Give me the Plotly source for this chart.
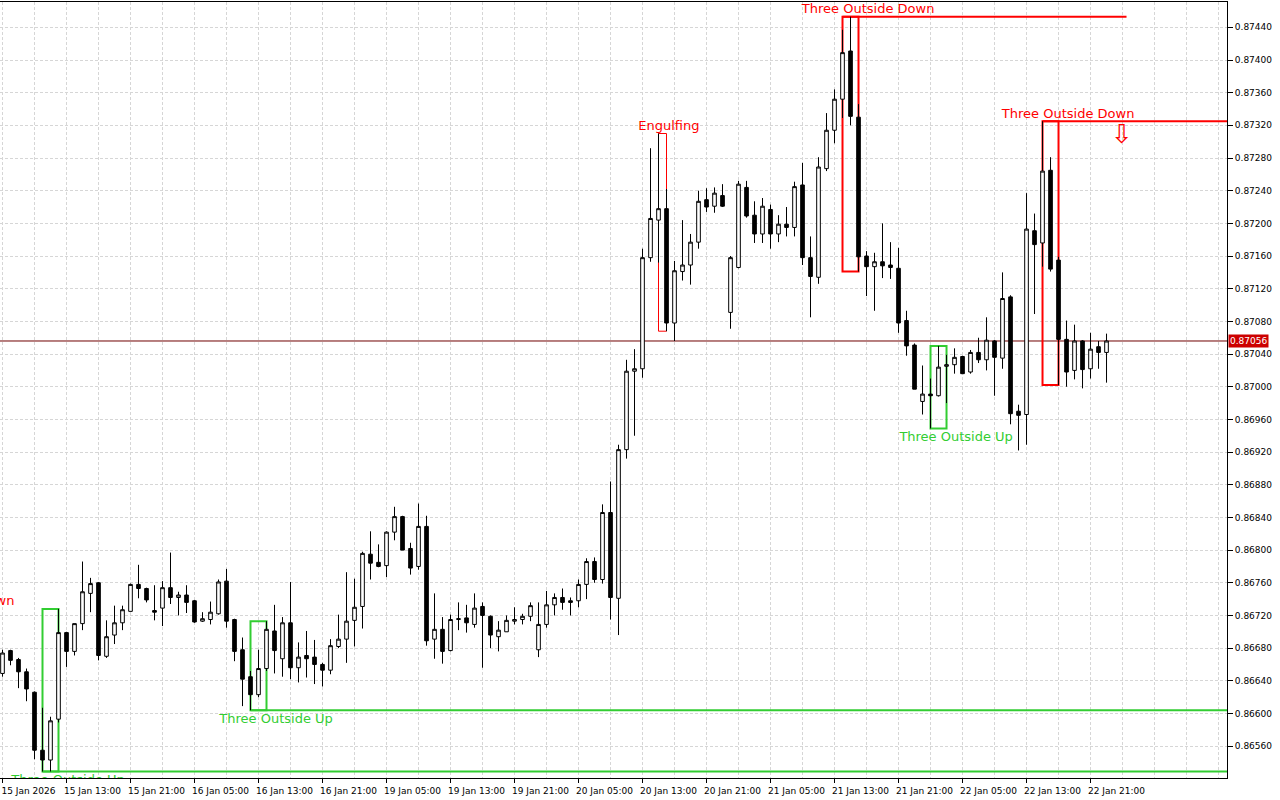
import pandas as pd
import plotly.graph_objects as go

# hourly EURGBP-style bars, 15 Jan 05:00 .. 22 Jan 23:00 (weekend skipped)
OPEN = [
    0.86649, 0.86677, 0.86666, 0.86651, 0.86626, 0.86555, 0.86543, 0.86593, 0.86699, 0.86676,
    0.86710, 0.86747, 0.86760, 0.86670, 0.86696, 0.86711, 0.86725, 0.86758, 0.86753, 0.86726,
    0.86729, 0.86754, 0.86742, 0.86745, 0.86738, 0.86713, 0.86715, 0.86722, 0.86762, 0.86715,
    0.86678, 0.86645, 0.86623, 0.86655, 0.86701, 0.86667, 0.86711, 0.86656, 0.86671, 0.86669,
    0.86660, 0.86653, 0.86682, 0.86691, 0.86714, 0.86731, 0.86795, 0.86785, 0.86781, 0.86822,
    0.86841, 0.86802, 0.86780, 0.86829, 0.86691, 0.86703, 0.86677, 0.86715, 0.86717, 0.86709,
    0.86731, 0.86719, 0.86694, 0.86700, 0.86713, 0.86715, 0.86719, 0.86678, 0.86709, 0.86733,
    0.86742, 0.86738, 0.86738, 0.86758, 0.86786, 0.86764, 0.86846, 0.86741, 0.86923, 0.87019,
    0.87022, 0.87158, 0.87204, 0.87218, 0.87078, 0.87141, 0.87149, 0.87177, 0.87229, 0.87221,
    0.87234, 0.87091, 0.87146, 0.87244, 0.87210, 0.87187, 0.87217, 0.87187, 0.87199, 0.87195,
    0.87247, 0.87158, 0.87134, 0.87267, 0.87314, 0.87352, 0.87411, 0.87330, 0.87160, 0.87147,
    0.87153, 0.87149, 0.87145, 0.87081, 0.87051, 0.86982, 0.86991, 0.86989, 0.87025, 0.87027,
    0.87037, 0.87018, 0.87042, 0.87033, 0.87056, 0.87035, 0.87110, 0.86970, 0.86966, 0.87191,
    0.87176, 0.87265, 0.87155, 0.87058, 0.87020, 0.87056, 0.87022, 0.87049, 0.87042,
]
HIGH = [
    0.86678, 0.86678, 0.86668, 0.86655, 0.86627, 0.86607, 0.86596, 0.86728, 0.86700, 0.86710,
    0.86786, 0.86766, 0.86761, 0.86714, 0.86732, 0.86732, 0.86759, 0.86782, 0.86754, 0.86757,
    0.86762, 0.86797, 0.86749, 0.86757, 0.86739, 0.86724, 0.86737, 0.86764, 0.86777, 0.86716,
    0.86693, 0.86652, 0.86678, 0.86713, 0.86733, 0.86718, 0.86761, 0.86687, 0.86701, 0.86690,
    0.86662, 0.86691, 0.86721, 0.86773, 0.86765, 0.86798, 0.86823, 0.86807, 0.86823, 0.86853,
    0.86842, 0.86809, 0.86857, 0.86842, 0.86747, 0.86718, 0.86721, 0.86736, 0.86733, 0.86747,
    0.86736, 0.86720, 0.86713, 0.86720, 0.86730, 0.86722, 0.86736, 0.86736, 0.86750, 0.86747,
    0.86753, 0.86742, 0.86764, 0.86790, 0.86791, 0.86856, 0.86884, 0.86929, 0.87033, 0.87046,
    0.87169, 0.87292, 0.87310, 0.87242, 0.87154, 0.87204, 0.87187, 0.87240, 0.87243, 0.87244,
    0.87248, 0.87160, 0.87252, 0.87252, 0.87227, 0.87231, 0.87223, 0.87210, 0.87220, 0.87251,
    0.87274, 0.87184, 0.87281, 0.87335, 0.87364, 0.87437, 0.87453, 0.87346, 0.87166, 0.87164,
    0.87200, 0.87177, 0.87170, 0.87093, 0.87053, 0.87026, 0.87010, 0.87050, 0.87039, 0.87047,
    0.87038, 0.87045, 0.87060, 0.87085, 0.87057, 0.87140, 0.87112, 0.86978, 0.87237, 0.87212,
    0.87325, 0.87281, 0.87159, 0.87081, 0.87076, 0.87057, 0.87066, 0.87056, 0.87065,
]
LOW = [
    0.86645, 0.86659, 0.86631, 0.86615, 0.86544, 0.86529, 0.86529, 0.86589, 0.86657, 0.86671,
    0.86702, 0.86724, 0.86665, 0.86668, 0.86685, 0.86702, 0.86725, 0.86741, 0.86736, 0.86714,
    0.86707, 0.86734, 0.86720, 0.86723, 0.86711, 0.86712, 0.86709, 0.86721, 0.86705, 0.86664,
    0.86609, 0.86604, 0.86620, 0.86652, 0.86649, 0.86645, 0.86642, 0.86638, 0.86644, 0.86636,
    0.86633, 0.86648, 0.86680, 0.86662, 0.86682, 0.86704, 0.86764, 0.86779, 0.86767, 0.86812,
    0.86800, 0.86770, 0.86776, 0.86683, 0.86667, 0.86661, 0.86676, 0.86702, 0.86699, 0.86705,
    0.86656, 0.86680, 0.86676, 0.86700, 0.86709, 0.86709, 0.86713, 0.86669, 0.86705, 0.86720,
    0.86727, 0.86720, 0.86730, 0.86740, 0.86760, 0.86759, 0.86715, 0.86696, 0.86912, 0.86940,
    0.87011, 0.87153, 0.87152, 0.87068, 0.87056, 0.87130, 0.87125, 0.87169, 0.87214, 0.87213,
    0.87220, 0.87071, 0.87145, 0.87207, 0.87176, 0.87176, 0.87169, 0.87177, 0.87184, 0.87184,
    0.87149, 0.87085, 0.87126, 0.87264, 0.87298, 0.87329, 0.87320, 0.87141, 0.87111, 0.87093,
    0.87133, 0.87132, 0.87066, 0.87038, 0.86997, 0.86966, 0.86949, 0.86988, 0.86980, 0.87016,
    0.87016, 0.87016, 0.87029, 0.87020, 0.86989, 0.87022, 0.86954, 0.86922, 0.86929, 0.87089,
    0.87147, 0.87141, 0.87002, 0.87000, 0.87009, 0.86998, 0.87010, 0.87022, 0.87005,
]
CLOSE = [
    0.86674, 0.86665, 0.86651, 0.86630, 0.86555, 0.86543, 0.86591, 0.86699, 0.86676, 0.86710,
    0.86749, 0.86759, 0.86671, 0.86694, 0.86711, 0.86727, 0.86758, 0.86753, 0.86739, 0.86724,
    0.86754, 0.86742, 0.86745, 0.86736, 0.86712, 0.86716, 0.86724, 0.86761, 0.86713, 0.86676,
    0.86642, 0.86623, 0.86655, 0.86703, 0.86677, 0.86711, 0.86656, 0.86669, 0.86667, 0.86660,
    0.86653, 0.86683, 0.86691, 0.86713, 0.86730, 0.86796, 0.86784, 0.86780, 0.86822, 0.86841,
    0.86800, 0.86778, 0.86829, 0.86689, 0.86703, 0.86676, 0.86715, 0.86716, 0.86711, 0.86729,
    0.86720, 0.86696, 0.86702, 0.86714, 0.86715, 0.86719, 0.86732, 0.86709, 0.86733, 0.86742,
    0.86736, 0.86736, 0.86758, 0.86786, 0.86764, 0.86846, 0.86742, 0.86923, 0.87019, 0.87022,
    0.87158, 0.87206, 0.87218, 0.87078, 0.87142, 0.87149, 0.87177, 0.87227, 0.87220, 0.87237,
    0.87221, 0.87158, 0.87248, 0.87209, 0.87187, 0.87221, 0.87187, 0.87199, 0.87195, 0.87245,
    0.87158, 0.87135, 0.87269, 0.87314, 0.87352, 0.87409, 0.87331, 0.87159, 0.87147, 0.87153,
    0.87148, 0.87146, 0.87078, 0.87050, 0.86997, 0.86991, 0.86989, 0.87024, 0.87027, 0.87036,
    0.87016, 0.87042, 0.87033, 0.87057, 0.87036, 0.87108, 0.86967, 0.86965, 0.87193, 0.87174,
    0.87264, 0.87144, 0.87058, 0.87018, 0.87056, 0.87021, 0.87046, 0.87042, 0.87056,
]

BID = 0.87056

# candle patterns found by the indicator (bar indices, first one starts before the window)
PATTERN_NAME = ["Three Outside Down", "Three Outside Up", "Three Outside Up", "Engulfing",
                "Three Outside Down", "Three Outside Up", "Three Outside Down"]
PATTERN_FIRST = [-10, 5, 31, 82, 105, 116, 130]
PATTERN_LAST = [-8, 7, 33, 83, 107, 118, 132]
PATTERN_TOP = [0.86729, 0.86728, 0.86713, 0.87310, 0.87453, 0.87050, 0.87325]
PATTERN_BOTTOM = [0.86640, 0.86529, 0.86604, 0.87068, 0.87141, 0.86949, 0.87002]

# level lines drawn from the patterns (None = to the right edge)
LEVEL_PRICE = [0.86529, 0.86604, 0.87453, 0.87325]
LEVEL_FROM = [5, 31, 105, 130]
LEVEL_TO = [None, None, 140.5, None]
LEVEL_UP = [True, True, False, False]

# sell arrow after the last pattern
ARROW_BAR = 139.9
ARROW_PRICE = 0.87325

RED = "#FF0000"
GREEN = "#32CD32"
GRID = "#D6D6D6"

Y_RANGE = [0.86521, 0.87471]
PLOT_H = 776
px_price = (Y_RANGE[1] - Y_RANGE[0]) / PLOT_H  # price per screen pixel

hours = pd.date_range("2026-01-15 05:00", "2026-01-22 23:00", freq="h")
bar_times = hours[hours.dayofweek < 5]
bars = list(range(len(bar_times)))

tick_pos = bars[::8]
tick_text = [bar_times[i].strftime("%d %b %H:%M") for i in tick_pos]
tick_text[0] = bar_times[0].strftime("%d %b %Y")

fig = go.Figure()

fig.add_trace(go.Candlestick(
    x=bars, open=OPEN, high=HIGH, low=LOW, close=CLOSE,
    increasing=dict(line=dict(color="black", width=1), fillcolor="white"),
    decreasing=dict(line=dict(color="black", width=1), fillcolor="black"),
    whiskerwidth=0, hoverinfo="skip",
))

# pattern boxes
for name, a, b, top, bot in zip(PATTERN_NAME, PATTERN_FIRST, PATTERN_LAST,
                                PATTERN_TOP, PATTERN_BOTTOM):
    col = GREEN if name.endswith("Up") else RED
    fig.add_shape(type="rect", x0=a, x1=b, y0=bot, y1=top, layer="between",
                  line=dict(color=col, width=1 if name == "Engulfing" else 2))

# level lines
for p, a, b, up in zip(LEVEL_PRICE, LEVEL_FROM, LEVEL_TO, LEVEL_UP):
    fig.add_shape(type="line", x0=a, x1=b if b is not None else 200, y0=p, y1=p,
                  layer="between", line=dict(color=GREEN if up else RED, width=2))

# bid line
fig.add_shape(type="line", xref="paper", x0=0, x1=1, y0=BID, y1=BID, layer="between",
              line=dict(color="#700000", width=1))

# pattern labels
for up in (False, True):
    xs, ys, txt = [], [], []
    for name, b, top, bot in zip(PATTERN_NAME, PATTERN_LAST, PATTERN_TOP, PATTERN_BOTTOM):
        if name.endswith("Up") != up:
            continue
        xs.append(b + (0.3 if name == "Engulfing" else 1.2))
        ys.append(bot - 3 * px_price if up else top)
        txt.append(name)
    fig.add_trace(go.Scatter(
        x=xs, y=ys, text=txt, mode="text", cliponaxis=True, hoverinfo="skip",
        textposition="bottom center" if up else "top center",
        textfont=dict(family="DejaVu Sans", size=13, color=GREEN if up else RED),
    ))

fig.add_trace(go.Scatter(
    x=[ARROW_BAR], y=[ARROW_PRICE - 2 * px_price], text=["⇩"], mode="text", hoverinfo="skip",
    textposition="bottom center",
    textfont=dict(family="DejaVu Sans", size=26, color=RED),
))

fig.add_annotation(
    xref="paper", x=1, y=BID, text=BID.__format__(".5f"), showarrow=False,
    xanchor="left", xshift=1, bgcolor="#CC0000", borderpad=1,
    font=dict(family="DejaVu Sans", size=9, color="white"),
)

fig.update_layout(
    width=1280, height=800,
    margin=dict(l=0, r=53, t=2, b=22),
    plot_bgcolor="white", paper_bgcolor="white",
    showlegend=False, boxgap=0.35,
    font=dict(family="DejaVu Sans", size=9, color="black"),
    xaxis=dict(
        range=[-0.3125, 153.06], rangeslider=dict(visible=False),
        tickmode="array", tickvals=tick_pos, ticktext=tick_text,
        ticks="outside", ticklen=4, tickcolor="black", ticklabelshift=26,
        showline=True, mirror=True, linecolor="black", linewidth=1,
        showgrid=True, gridcolor=GRID, griddash="3px,2px", zeroline=False,
        minor=dict(tickmode="linear", tick0=0, dtick=4, showgrid=True,
                   gridcolor=GRID, griddash="3px,2px", ticks=""),
    ),
    yaxis=dict(
        side="right", range=Y_RANGE,
        tick0=0.8656, dtick=0.0004, tickformat=".5f",
        ticks="outside", ticklen=5, tickcolor="black",
        showline=True, mirror=True, linecolor="black", linewidth=1,
        showgrid=True, gridcolor=GRID, griddash="3px,2px", zeroline=False,
    ),
)

fig.write_html("out.html", config={"displayModeBar": False},
               post_script="document.body.style.margin = '0px';")
